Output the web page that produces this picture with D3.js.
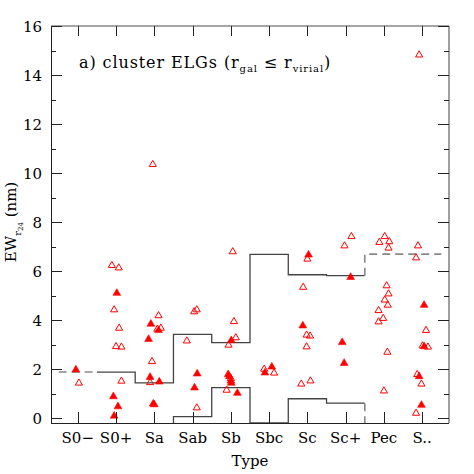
<html>
<head>
<meta charset="utf-8">
<script src="https://cdn.jsdelivr.net/npm/d3@7/dist/d3.min.js"></script>
<style>
body { margin: 0; background: #fff; }
text { font-family: "DejaVu Serif", serif; fill: #000; }
.ticklab { font-size: 15px; }
.frame { stroke: #222; stroke-width: 1; }
.frame2 { stroke: #888; stroke-width: 1.6; }
.tick { stroke: #222; stroke-width: 1; }
.step { fill: none; stroke: #444; stroke-width: 1.3; }
.stepdash { fill: none; stroke: #888; stroke-width: 1.6; stroke-dasharray: 8,5; }
.open { fill: none; stroke: #ff0000; stroke-width: 1; }
.filled { fill: #ff0000; stroke: #ff0000; stroke-width: 0.6; }
</style>
</head>
<body>
<svg id="chart" width="474" height="474"></svg>
<script>

// morphological types along x (type index 1..10)
var categories = ["S0\u2212", "S0+", "Sa", "Sab", "Sb", "Sbc", "Sc", "Sc+", "Pec", "S.."];
var yMajor = [0, 2, 4, 6, 8, 10, 12, 14, 16];
var yMinor = [1, 3, 5, 7, 9, 11, 13, 15];

// step levels per type (upper and lower envelope), null = none
var upperLevels = [1.88, 1.88, 1.44, 3.42, 3.08, 6.68, 5.85, 5.81, 6.69, 6.69];
var lowerLevels = [null, null, null, 0.06, 1.24, null, 0.79, 0.61, null, null];

// open triangles: [type value, EW]
var openPts = [
  [1.03, 1.43],
  [1.89, 6.23], [2.07, 6.13], [1.95, 4.42], [2.08, 3.67], [2.00, 2.92], [2.14, 2.90], [2.14, 1.51],
  [2.96, 10.35], [3.11, 4.18], [3.08, 3.63], [3.17, 3.67], [2.94, 2.31], [2.89, 1.45],
  [4.04, 4.34], [4.11, 4.42], [3.85, 3.15], [4.11, 0.42],
  [5.05, 6.79], [5.08, 3.94], [5.13, 3.28], [4.94, 2.98], [5.00, 1.62], [4.89, 1.14],
  [5.87, 2.00], [6.13, 1.84],
  [7.00, 6.49], [6.89, 5.34], [6.98, 3.39], [7.07, 3.35], [6.98, 2.91], [6.84, 1.39], [7.08, 1.52],
  [8.15, 7.41], [7.97, 7.03],
  [9.02, 7.41], [8.88, 7.17], [9.14, 7.20], [9.12, 6.94], [9.07, 5.40], [9.12, 5.07], [9.02, 4.82],
  [9.10, 4.61], [8.86, 4.39], [8.98, 4.07], [8.86, 3.93], [9.09, 2.69], [9.00, 1.11],
  [9.92, 14.82], [9.89, 7.03], [9.84, 6.54], [10.10, 3.58], [10.01, 2.95], [10.15, 2.90],
  [9.87, 1.78], [9.98, 1.39], [9.84, 0.20]
];

// filled triangles: [type value, EW]
var filledPts = [
  [0.95, 1.97],
  [2.02, 5.10], [1.93, 0.88], [2.05, 0.47], [1.95, 0.09],
  [2.91, 3.84], [3.11, 3.58], [2.85, 3.22], [2.89, 1.67], [3.13, 1.48], [2.97, 0.58], [3.00, 0.55],
  [4.12, 1.81], [4.05, 1.24],
  [5.01, 3.17], [4.93, 1.78], [4.96, 1.70], [5.00, 1.52], [5.01, 1.43], [5.17, 1.02],
  [5.89, 1.85], [6.07, 2.09],
  [7.03, 6.66], [6.88, 3.77],
  [8.13, 5.75], [7.91, 3.09], [7.96, 2.24],
  [10.05, 4.61], [10.05, 2.92], [9.92, 1.70], [9.98, 0.53]
];

var svg = d3.select("#chart");
var pL = 51, pR = 449, pT = 26, pB = 423;

var x = d3.scaleLinear().domain([0.3, 10.7]).range([pL, pR]);
var y = d3.scaleLinear().domain([-0.2, 16]).range([pB, pT]);

var line = d3.line()
  .x(function(d){ return x(d[0]); })
  .y(function(d){ return y(d[1] == null ? y.domain()[0] : d[1]); });

// step points for types i0..i1 (1-based), clipped to the frame
function steps(levels, i0, i1) {
  var pts = [];
  for (var i = i0; i <= i1; i++) {
    var v = levels[i - 1];
    pts.push([Math.max(i - 0.5, x.domain()[0]), v]);
    pts.push([Math.min(i + 0.5, x.domain()[1]), v]);
  }
  return pts;
}

// upper envelope: S0- and Pec/S.. dashed, rest solid
svg.append("path").attr("class", "stepdash").attr("d", line(steps(upperLevels, 1, 1)));
svg.append("path").attr("class", "step").attr("d", line(steps(upperLevels, 2, 8)));
svg.append("path").attr("class", "stepdash")
  .attr("d", line([[8.5, upperLevels[7]]].concat(steps(upperLevels, 9, 10))));

// lower envelope
svg.append("path").attr("class", "step").attr("d", line([[3.5, null]].concat(steps(lowerLevels, 4, 8))));
svg.append("path").attr("class", "stepdash").attr("d", line([[8.5, lowerLevels[7]], [8.5, null]]));

// points
var tri = d3.symbol().type(d3.symbolTriangle);
svg.selectAll(".open").data(openPts).enter().append("path")
  .attr("class", "open")
  .attr("d", tri.size(22)())
  .attr("transform", function(d){ return "translate(" + x(d[0]) + "," + y(d[1]) + ")"; });
svg.selectAll(".filled").data(filledPts).enter().append("path")
  .attr("class", "filled")
  .attr("d", tri.size(26)())
  .attr("transform", function(d){ return "translate(" + x(d[0]) + "," + y(d[1]) + ")"; });

// frame
svg.append("line").attr("class", "frame").attr("x1", pL + 0.5).attr("x2", pL + 0.5).attr("y1", pT).attr("y2", pB + 0.5);
svg.append("line").attr("class", "frame").attr("x1", pL).attr("x2", pR).attr("y1", pB + 0.5).attr("y2", pB + 0.5);
svg.append("line").attr("class", "frame2").attr("x1", pL).attr("x2", pR).attr("y1", pT).attr("y2", pT);
svg.append("line").attr("class", "frame2").attr("x1", pR).attr("x2", pR).attr("y1", pT).attr("y2", pB);

// ticks
categories.forEach(function(c, i){
  var xx = Math.round(x(i + 1)) + 0.5;
  svg.append("line").attr("class", "tick").attr("x1", xx).attr("x2", xx).attr("y1", pB).attr("y2", pB - 11);
  svg.append("line").attr("class", "tick").attr("x1", xx).attr("x2", xx).attr("y1", pT).attr("y2", pT + 10);
  svg.append("text").attr("class", "ticklab").attr("x", x(i + 1)).attr("y", 443)
    .attr("text-anchor", "middle").text(c);
});
yMajor.forEach(function(v){
  var yy = Math.round(y(v)) + 0.5;
  svg.append("line").attr("class", "tick").attr("x1", pL).attr("x2", pL + 11).attr("y1", yy).attr("y2", yy);
  svg.append("line").attr("class", "tick").attr("x1", pR).attr("x2", pR - 11).attr("y1", yy).attr("y2", yy);
  svg.append("text").attr("class", "ticklab").attr("x", 42).attr("y", y(v) + 5.5)
    .attr("text-anchor", "end").text(v);
});
yMinor.forEach(function(v){
  var yy = Math.round(y(v)) + 0.5;
  svg.append("line").attr("class", "tick").attr("x1", pL).attr("x2", pL + 5).attr("y1", yy).attr("y2", yy);
  svg.append("line").attr("class", "tick").attr("x1", pR).attr("x2", pR - 5).attr("y1", yy).attr("y2", yy);
});

// axis labels
svg.append("text").attr("x", 250).attr("y", 466).attr("text-anchor", "middle")
  .style("font-size", "15px").text("Type");

var yl = svg.append("text").attr("transform", "translate(16,222) rotate(-90)")
  .attr("text-anchor", "middle").style("font-size", "15px");
yl.append("tspan").text("EW");
yl.append("tspan").attr("dy", 5).style("font-size", "10px").text("r");
yl.append("tspan").attr("dy", 2).style("font-size", "7px").text("24");
yl.append("tspan").attr("dy", -7).text(" (nm)");

// title
var t = svg.append("text").attr("x", 79).attr("y", 68).style("font-size", "16px")
  .style("letter-spacing", "0.9px");
t.append("tspan").text("a) cluster ELGs (r");
t.append("tspan").attr("dy", 4).style("font-size", "10px").text("gal");
t.append("tspan").attr("dy", -4).text(" \u2264 r");
t.append("tspan").attr("dy", 4).style("font-size", "10px").text("virial");
t.append("tspan").attr("dy", -4).text(")");

</script>
</body>
</html>
